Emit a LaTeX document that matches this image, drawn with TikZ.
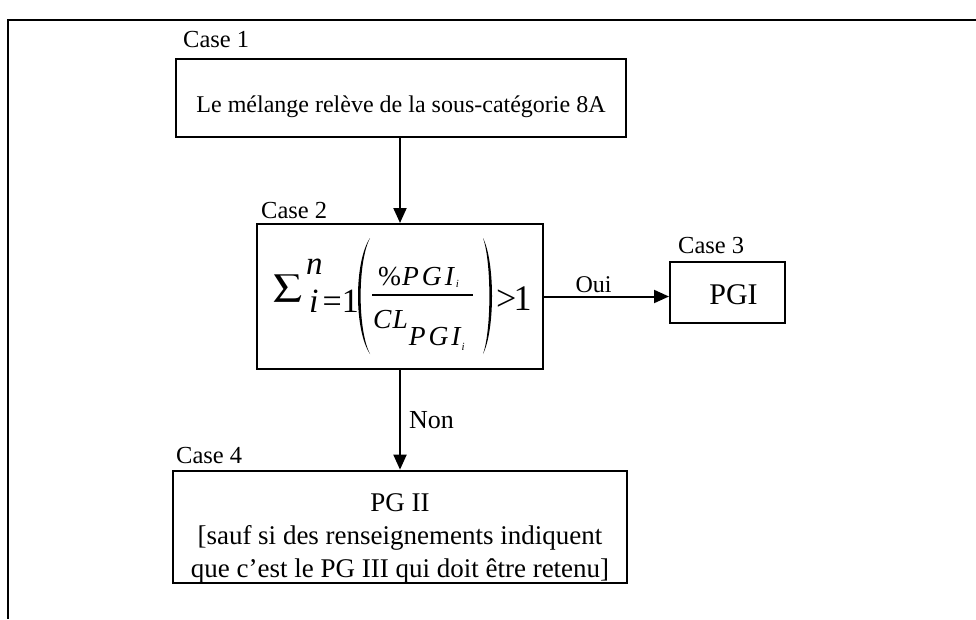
\documentclass[tikz,border=0pt]{standalone}
\usepackage{mathptmx}
\usepackage{fontspec}
\setmainfont{Liberation Serif}
\usetikzlibrary{arrows.meta,calc}
\newcommand{\fsz}[1]{\fontsize{#1}{#1}\selectfont}
\begin{document}
\begin{tikzpicture}[x=1pt,y=-1pt,
  every node/.style={font=\fontsize{24}{31}\selectfont},
  box/.style={draw,line width=2pt,rectangle,inner sep=0pt,align=center},
  caselbl/.style={anchor=base west,inner sep=0pt,font=\fontsize{24.5}{30}\selectfont},
  conn/.style={line width=2pt,-{Triangle[length=15pt,width=13pt]}},
  frameline/.style={line width=2pt},
  mpiece/.style={anchor=base west,inner sep=0pt},
  paren/.style={fill=black}]
\useasboundingbox (0,0) rectangle (976,619);
% frame
\coordinate (ftr) at (976,20);
\coordinate (fc) at (8,20);
\coordinate (fbl) at (8,619);
\draw[frameline] (ftr) -- (fc) -- (fbl);
% boxes
\node[box,minimum width=450pt,minimum height=78pt] (b1) at (401,98)
  {\rule{0pt}{35pt}Le mélange relève de la sous-catégorie 8A};
\node[box,minimum width=286pt,minimum height=145pt] (b2) at (400,296.5) {};
\node[box,minimum width=115pt,minimum height=61pt,font=\fontsize{30}{34}\selectfont] (b3) at (727.5,292)
  {\hspace*{12pt}\rule{0pt}{26pt}PGI};
\node[box,minimum width=454pt,minimum height=112pt,font=\fontsize{27}{33}\selectfont] (b4) at (400,527)
  {\rule{0pt}{41pt}PG II\\{[}sauf si des renseignements indiquent\\que c’est le PG III qui doit être retenu]};
% formula in Case 2
\node[anchor=south west,inner sep=0pt] (sig) at (273,302) {\resizebox*{29pt}{27pt}{$\sum$}};
\node[mpiece,font=\fsz{33}\itshape] (sup) at (306,274) {n};
\node[mpiece,font=\fsz{34}] (sub) at (309,312) {\itshape i\upshape\kern4pt=1};
\fill[paren] (370,238) .. controls (354,262) and (354,330) .. (370,354)
             .. controls (357.5,330) and (357.5,262) .. (370,238) -- cycle;
\node[mpiece,font=\fsz{27.5}] (num) at (378,285)
  {\%\kern1pt\itshape P\kern3pt G\kern3pt I\kern2pt\raisebox{-2pt}{\fsz{11}i}};
\draw[line width=1.5pt] (372,295) -- (473,295);
\node[mpiece,font=\fsz{27.5}\itshape] (den) at (373,328)
  {C\kern1pt L\kern1pt\raisebox{-17pt}{P\kern3pt G\kern3pt I\kern1pt\raisebox{-5pt}{\fsz{11}i}}};
\fill[paren] (483,238) .. controls (495,262) and (495,330) .. (483,354)
             .. controls (491.5,330) and (491.5,262) .. (483,238) -- cycle;
\node[mpiece,font=\fsz{36}] (gt) at (496,310) {>\kern-3pt1};
% labels
\node[caselbl] (c1) at ($(b1.north west)+(8,-11)$) {Case 1};
\node[caselbl] (c2) at ($(b2.north west)+(5,-5)$) {Case 2};
\node[caselbl] (c3) at ($(b3.north west)+(9,-7)$) {Case 3};
\node[caselbl] (c4) at ($(b4.north west)+(4,-6)$) {Case 4};
% connectors
\draw[conn] (b1.south -| b2.north) -- (b2.north);
\draw[conn] (b2.east) -- (b2.east -| b3.west) node[midway,above=3pt,xshift=-13pt,inner sep=0pt] (oui) {Oui};
\draw[conn] (b2.south) -- (b4.north) node[midway,right=8pt,inner sep=0pt,font=\fsz{26}] (non) {Non};
\end{tikzpicture}
\end{document}
